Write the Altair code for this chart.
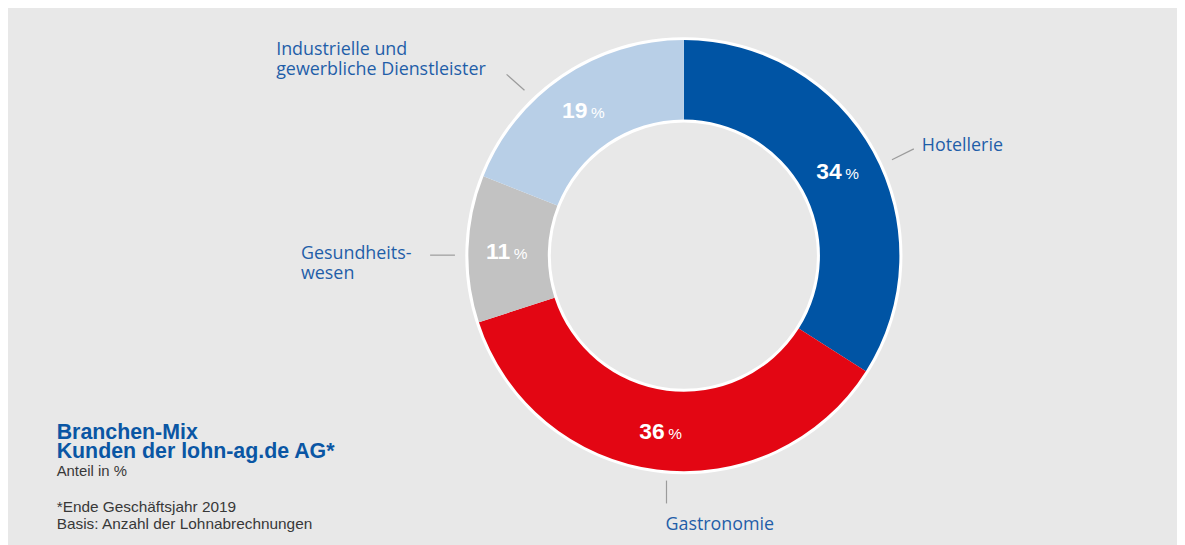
import altair as alt
import pandas as pd

# ---------------- data ----------------
categories = ["Hotellerie", "Gastronomie", "Gesundheitswesen",
              "Industrielle und gewerbliche Dienstleister"]
shares = [34, 36, 11, 19]
order = [0, 1, 2, 3]
label_lines = [["Hotellerie"], ["Gastronomie"], ["Gesundheits-", "wesen"],
               ["Industrielle und", "gewerbliche Dienstleister"]]
title_lines = ["Branchen-Mix", "Kunden der lohn-ag.de AG*"]
subtitle = "Anteil in %"
notes = ["*Ende Geschäftsjahr 2019", "Basis: Anzahl der Lohnabrechnungen"]

# ---------------- style / layout ----------------
W, H = 1177, 537
CX, CY = 680.5, 247.5
R_OUT, R_IN = 217, 137
palette = ["#0054a4", "#e30613", "#c2c2c2", "#b8cfe7"]
BG = "#e8e8e8"
LABEL_BLUE = "#1f5ea8"
TITLE_BLUE = "#0a56a4"
NOTE_GREY = "#383838"
LEADER = "#9b9b9b"

# anchor (left x, first baseline y) of each outside label, and its leader line
label_anchor = {
    "Hotellerie": (920, 142),
    "Gastronomie": (662, 523.5),
    "Gesundheitswesen": (295, 251.3),
    "Industrielle und gewerbliche Dienstleister": (270, 45.3),
}
leader_xy = {
    "Hotellerie": (890, 151, 912, 140),
    "Gastronomie": (663, 474, 663, 497),
    "Gesundheitswesen": (425, 247, 450, 247),
    "Industrielle und gewerbliche Dienstleister": (502, 65, 520, 81),
}
LINE_H = 20

df = pd.DataFrame({"cat": categories, "share": shares, "order": order})

lab_df = pd.DataFrame([
    {"t": lines, "x": label_anchor[c][0], "y": label_anchor[c][1]}
    for c, lines in zip(categories, label_lines)
])

lead_df = pd.DataFrame([
    {"x": v[0], "y": v[1], "x2": v[2], "y2": v[3]} for v in leader_xy.values()
])

theta = alt.Theta("share:Q", stack=True, scale=alt.Scale(domain=[0, 100]))
ordr = alt.Order("order:Q")
cx = alt.value(CX)
cy = alt.value(CY)

ring = alt.Chart(alt.Data(values=[{}])).mark_arc(
    radius=R_OUT + 3, radius2=R_IN - 3, theta=0, theta2=6.28319, color="white"
).encode(x=cx, y=cy)

arcs = alt.Chart(df).mark_arc(radius=R_OUT, radius2=R_IN).encode(
    theta=theta, order=ordr, x=cx, y=cy,
    color=alt.Color("cat:N", scale=alt.Scale(domain=categories, range=palette),
                    legend=None),
)

num = alt.Chart(df).mark_text(
    radius=178, align="right", baseline="alphabetic", dx=3, dy=8.5,
    font="Liberation Sans", fontSize=23, fontWeight="bold", color="white",
).encode(theta=theta, order=ordr, x=cx, y=cy, text=alt.Text("share:Q"))

pct = alt.Chart(df).mark_text(
    radius=178, align="left", baseline="alphabetic", dx=6.5, dy=8.5,
    font="Liberation Sans", fontSize=15.5, color="white",
).encode(theta=theta, order=ordr, x=cx, y=cy, text=alt.value("%"))

leaders = alt.Chart(lead_df).mark_rule(color=LEADER, strokeWidth=1.2).encode(
    x=alt.X("x:Q", scale=None), y=alt.Y("y:Q", scale=None),
    x2="x2:Q", y2="y2:Q",
)

outer_labels = alt.Chart(lab_df).mark_text(
    align="left", baseline="alphabetic", font="Open Sans", fontSize=18,
    fontWeight=500, color=LABEL_BLUE, lineHeight=LINE_H,
).encode(x=alt.X("x:Q", scale=None), y=alt.Y("y:Q", scale=None), text="t")

title = alt.Chart(alt.Data(values=[{"t": title_lines}])).mark_text(
    align="left", baseline="alphabetic", font="Liberation Sans", fontSize=21.5,
    fontWeight="bold", color=TITLE_BLUE, lineHeight=19,
).encode(x=alt.value(49), y=alt.value(432.5), text=alt.Text("t:N"))

note_df = pd.DataFrame({"t": [subtitle] + notes, "y": [469.3, 506, 523],
                        "s": [15, 15.5, 15.5]})
note = alt.Chart(note_df).mark_text(
    align="left", baseline="alphabetic", font="Liberation Sans",
    color=NOTE_GREY,
).encode(x=alt.value(49), y=alt.Y("y:Q", scale=None), text="t:N",
         size=alt.Size("s:Q", scale=None))

chart = alt.layer(ring, arcs, num, pct, leaders, outer_labels, title, note).properties(
    width=W, height=H, autosize=alt.AutoSizeParams(type="none"), padding=0,
    background=BG,
).configure_view(stroke=None, fill=BG)

chart.save("out.html", embed_options={"renderer": "svg", "actions": False})
